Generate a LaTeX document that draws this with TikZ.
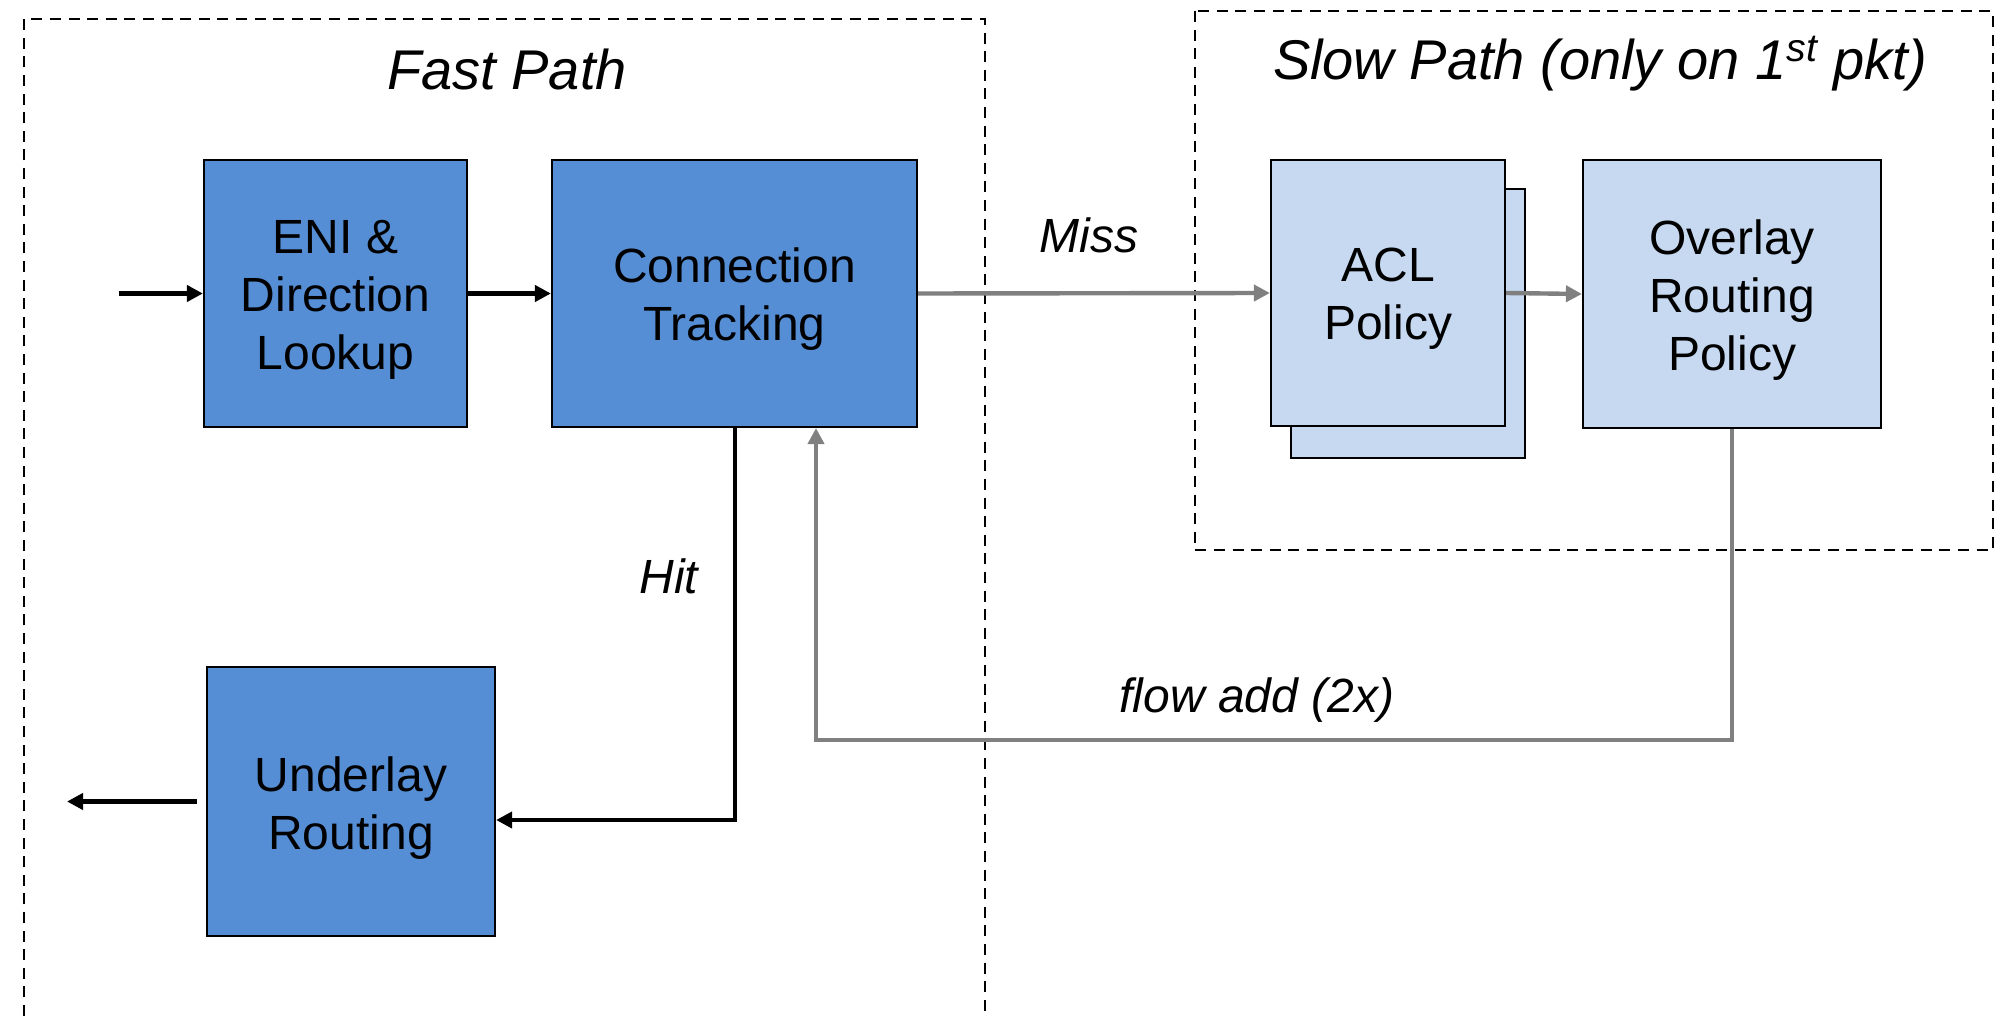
\documentclass[tikz,border=0pt]{standalone}
\usepackage{fontspec}
\setmainfont{Liberation Sans}
\usetikzlibrary{arrows.meta}
\definecolor{blockblue}{HTML}{558ED5}
\definecolor{blocklight}{HTML}{C6D9F1}
\definecolor{linegrey}{HTML}{808080}
\begin{document}
\begin{tikzpicture}[x=0.5pt,y=-0.5pt,
  block/.style={draw=black,line width=1.1pt,inner sep=0pt},
  fastblock/.style={block,fill=blockblue},
  slowblock/.style={block,fill=blocklight},
  blocktext/.style={align=center,inner sep=0pt,yshift=-3pt,
    font=\fontsize{24pt}{29pt}\selectfont},
  region/.style={draw=black,line width=1.2pt,dash pattern=on 5.5pt off 3.8pt},
  title/.style={anchor=base,font=\fontsize{28pt}{34pt}\selectfont\itshape},
  edgelabel/.style={anchor=base,font=\fontsize{24pt}{29pt}\selectfont\itshape},
  blackflow/.style={draw=black,line width=2.2pt,
    -{Triangle[length=8pt,width=8pt]}},
  greyflow/.style={draw=linegrey,line width=2.2pt,
    -{Triangle[length=8pt,width=8pt]}}]
\useasboundingbox (0,0) rectangle (2006,1016);

% dashed regions
\draw[region] (24,1016) -- (24,19) -- (985,19) -- (985,1016);
\draw[region] (1195,11) rectangle (1993,550);
\node[title] (fasttitle) at (507,90) {Fast Path};
\node[title] (slowtitle) at (1600,80) {Slow Path (only on 1\textsuperscript{st} pkt)};

% fast path blocks
\node[fastblock,minimum width=131.5pt,minimum height=133.5pt,
  label={[blocktext]center:{ENI \&\\Direction\\Lookup}}] (eni) at (335.5,293.5) {};
\node[fastblock,minimum width=182.5pt,minimum height=133.5pt,
  label={[blocktext]center:{Connection\\Tracking}}] (ct) at (734.5,293.5) {};
\node[fastblock,minimum width=144pt,minimum height=134.5pt,
  label={[blocktext,yshift=-0.5pt]center:{Underlay\\Routing}}] (under) at (351,801.5) {};

% slow path blocks
\node[slowblock,minimum width=117pt,minimum height=134.5pt] (aclback) at (1408,323.5) {};
\node[slowblock,minimum width=117pt,minimum height=133pt,
  label={[blocktext]center:{ACL\\Policy}}] (acl) at (1388,293) {};
\node[slowblock,minimum width=149pt,minimum height=134pt,
  label={[blocktext]center:{Overlay\\Routing\\Policy}}] (ovl) at (1732,294) {};

% connectors
\coordinate (pktin) at (119,293.5);
\coordinate (pktout) at (67,801.5);
\coordinate (hitcorner) at (735,820);
\coordinate (flowcorner) at (816,740);

\draw[blackflow] (pktin) -- (eni.west);
\draw[blackflow] (eni.east) -- (ct.west);
\draw[blackflow] ([xshift=-4.5pt]under.west) -- (pktout);
\draw[blackflow] (ct.south -| hitcorner) -- (hitcorner) -- (under.east |- hitcorner);
\draw[greyflow] (ct.east) -- (acl.west);
\draw[greyflow] (acl.east) -- (ovl.west);
\draw[greyflow] (ovl.south) |- (flowcorner) -- (ct.south -| flowcorner);

% connector labels
\node[edgelabel] (misslbl) at (1089,252) {Miss};
\node[edgelabel] (hitlbl) at (669,593) {Hit};
\node[edgelabel] (flowlbl) at (1257,712) {flow add (2x)};
\end{tikzpicture}
\end{document}
